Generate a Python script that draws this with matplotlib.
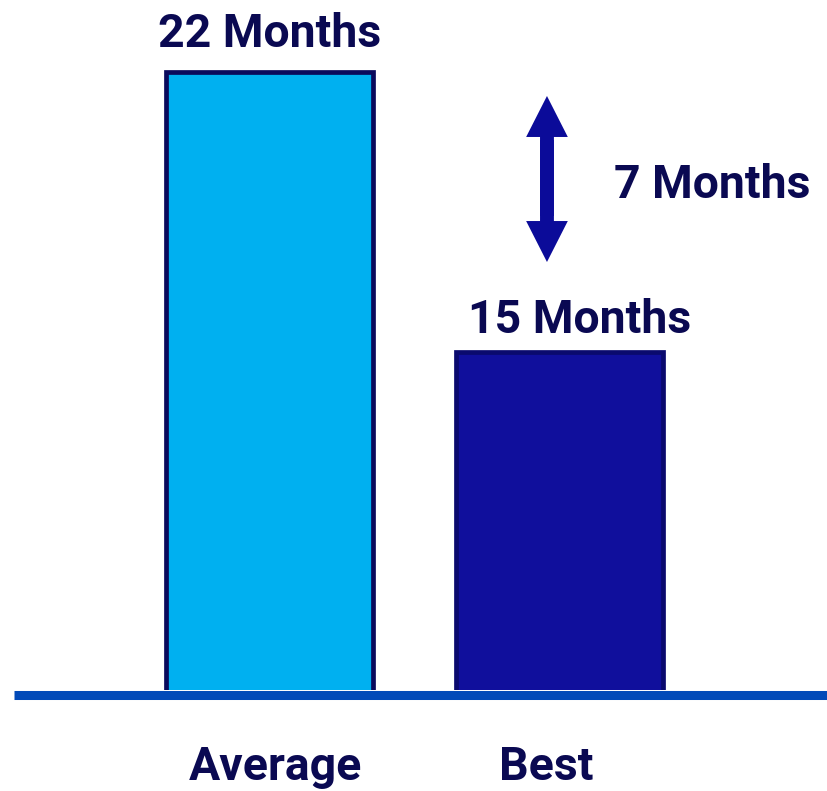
import matplotlib
matplotlib.use("Agg")
import matplotlib.pyplot as plt
from matplotlib.patches import FancyArrowPatch, ArrowStyle

# Time-to-market comparison
categories = ["Average", "Best"]
months = [22, 15]
bar_labels = ["22 Months", "15 Months"]
gap_label = "7 Months"

TEXT = "#0A0952"
FILLS = ["#00B0F0", "#100F9C"]
EDGES = ["#0A0A5C", "#0A0A6E"]
BASE = "#024AB8"
ARROW = "#0B0B99"

plt.rcParams["font.family"] = ["Roboto", "DejaVu Sans"]
plt.rcParams["font.weight"] = "bold"

fig = plt.figure(figsize=(8.28, 7.91), dpi=100)
ax = fig.add_axes([0, (791 - 690) / 791, 1, 690 / 791])

x = [0, 1]
ax.bar(x, months, width=0.715, color=FILLS, edgecolor=EDGES, linewidth=3.4,
       zorder=2)

ax.set_xlim(-0.929, 1.926)
y0 = 6.55
ax.set_ylim(y0, y0 + 690 / 40)
ax.axis("off")

# baseline under the bars
ax.plot([-0.929 + 14 / 290, 1.926], [y0 - 4.5 / 40] * 2, color=BASE,
        linewidth=6.5, solid_capstyle="butt", clip_on=False, zorder=3)

fs = 33.4
# value labels above bars
offsets = [(0, 18), (14.4, 13.7)]
for xi, v, lab, off in zip(x, months, bar_labels, offsets):
    ax.annotate(lab, (xi, v), xytext=off, textcoords="offset points",
                ha="center", va="baseline", fontsize=fs, color=TEXT,
                fontweight="bold")

# category labels below the baseline
cat_offsets = [4.3, -9.4]
for xi, lab, off in zip(x, categories, cat_offsets):
    ax.annotate(lab, (xi, y0), xytext=(off, -65), textcoords="offset points",
                ha="center", va="baseline", fontsize=fs, color=TEXT,
                fontweight="bold", annotation_clip=False)

# double-headed arrow marking the gap (two overlapping single arrows)
arr_x = 0.957
top_tip, bottom_tip = 21.4, 17.25
style = ArrowStyle("Simple", head_length=29.5, head_width=30, tail_width=10)
for start, tip in ((18.4, top_tip), (20.3, bottom_tip)):
    ax.add_patch(FancyArrowPatch((arr_x, start), (arr_x, tip), arrowstyle=style,
                                 mutation_scale=1, color=ARROW,
                                 shrinkA=0, shrinkB=0, linewidth=0, zorder=4))

ax.text(1.188, 19.18, gap_label, ha="left", va="center", fontsize=fs,
        color=TEXT, fontweight="bold")

fig.savefig("out.png", dpi=100)
